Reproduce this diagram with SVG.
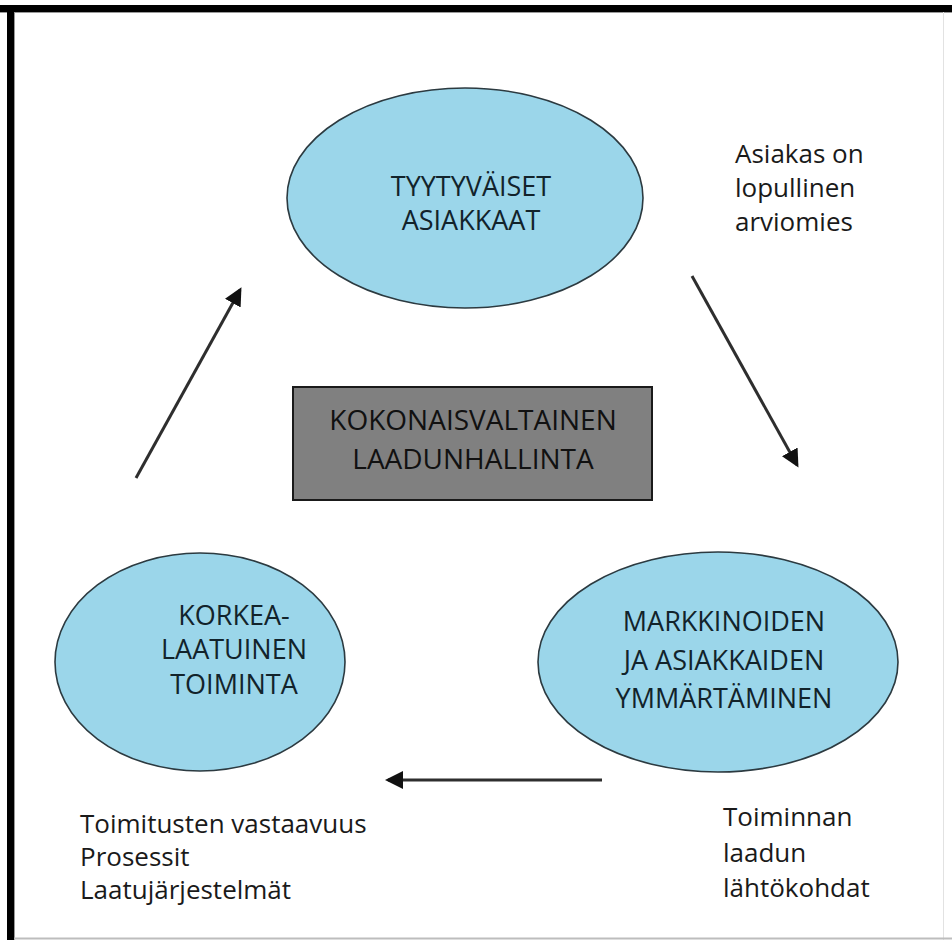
<svg xmlns="http://www.w3.org/2000/svg" width="952" height="940" viewBox="0 0 952 940">
  <defs>
    <marker id="arrowhead" markerWidth="6" markerHeight="6" refX="5" refY="3" orient="auto" markerUnits="strokeWidth">
      <path d="M0,0 L6,3 L0,6 Z" fill="#111"/>
    </marker>
    <style>
      .ell { fill: #9bd6ea; stroke: #2c3a40; stroke-width: 1.6; }
      .node-text { font-family: "Open Sans", "DejaVu Sans", sans-serif; font-size: 27px; fill: #12232b; text-anchor: middle; }
      .box-text { font-family: "Open Sans", "DejaVu Sans", sans-serif; font-size: 28px; fill: #111; text-anchor: middle; }
      .label { font-family: "Open Sans", "DejaVu Sans", sans-serif; font-size: 26px; fill: #1a1a1a; }
      .conn { stroke: #2e2e2e; stroke-width: 3; fill: none; marker-end: url(#arrowhead); }
    </style>
  </defs>

  <!-- page background and frame -->
  <rect x="0" y="0" width="952" height="940" fill="#fff"/>
  <rect x="0" y="5" width="952" height="7" fill="#000"/>
  <line x1="0" y1="12.5" x2="952" y2="12.5" stroke="#999" stroke-width="1"/>
  <rect x="7" y="5" width="7" height="935" fill="#000"/>
  <line x1="14.5" y1="12" x2="14.5" y2="940" stroke="#999" stroke-width="1"/>
  <line x1="943.5" y1="12" x2="943.5" y2="940" stroke="#e2e2e2" stroke-width="1"/>
  <line x1="14" y1="938.5" x2="952" y2="938.5" stroke="#bdbdbd" stroke-width="2"/>

  <!-- connectors -->
  <g id="connectors">
    <line class="conn" x1="692" y1="276" x2="797" y2="465"/>
    <line class="conn" x1="602" y1="780" x2="388" y2="780"/>
    <line class="conn" x1="136" y1="478" x2="240" y2="290"/>
  </g>

  <!-- nodes -->
  <g id="node-satisfied">
    <ellipse class="ell" cx="465" cy="198" rx="178" ry="110"/>
    <text class="node-text" x="471" y="196" font-size="26">TYYTYVÄISET</text>
    <text class="node-text" x="471" y="230" font-size="26">ASIAKKAAT</text>
  </g>

  <g id="node-tqm">
    <rect x="293" y="387" width="359" height="113" fill="#808080" stroke="#1a1a1a" stroke-width="2"/>
    <text class="box-text" x="473" y="430">KOKONAISVALTAINEN</text>
    <text class="box-text" x="473" y="469">LAADUNHALLINTA</text>
  </g>

  <g id="node-high-quality">
    <ellipse class="ell" cx="200" cy="662" rx="145" ry="109"/>
    <text class="node-text" x="234" y="625">KORKEA-</text>
    <text class="node-text" x="234" y="659">LAATUINEN</text>
    <text class="node-text" x="234" y="694">TOIMINTA</text>
  </g>

  <g id="node-markets">
    <ellipse class="ell" cx="718" cy="662" rx="180" ry="110"/>
    <text class="node-text" x="724" y="631">MARKKINOIDEN</text>
    <text class="node-text" x="724" y="670">JA ASIAKKAIDEN</text>
    <text class="node-text" x="724" y="708">YMMÄRTÄMINEN</text>
  </g>

  <!-- free labels -->
  <g id="label-customer">
    <text class="label" x="735" y="163">Asiakas on</text>
    <text class="label" x="735" y="197">lopullinen</text>
    <text class="label" x="735" y="231">arviomies</text>
  </g>
  <g id="label-operations">
    <text class="label" x="80" y="833" font-size="25">Toimitusten vastaavuus</text>
    <text class="label" x="80" y="866" font-size="25">Prosessit</text>
    <text class="label" x="80" y="899" font-size="25">Laatujärjestelmät</text>
  </g>
  <g id="label-basis">
    <text class="label" x="723" y="826" font-size="27">Toiminnan</text>
    <text class="label" x="723" y="862" font-size="27">laadun</text>
    <text class="label" x="723" y="897" font-size="27">lähtökohdat</text>
  </g>
</svg>
